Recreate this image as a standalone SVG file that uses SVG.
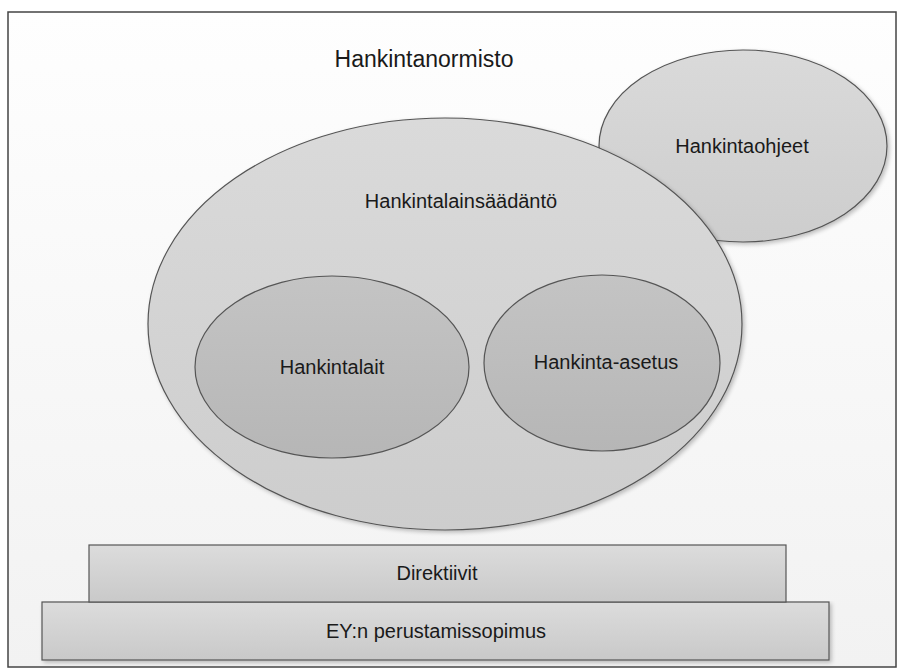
<svg xmlns="http://www.w3.org/2000/svg" width="902" height="669" viewBox="0 0 902 669">
<style>
.shape{stroke:#555;stroke-width:1.2}
.lbl{font-family:"Liberation Sans",Arial,sans-serif;font-size:20px;fill:#1a1a1a;text-anchor:middle}
</style>
<defs>
<linearGradient id="bg" x1="0" y1="0" x2="0" y2="1"><stop offset="0" stop-color="#fefefe"/><stop offset="1" stop-color="#f2f2f2"/></linearGradient>
<linearGradient id="outer" x1="0" y1="0" x2="0" y2="1"><stop offset="0" stop-color="#dadada"/><stop offset="1" stop-color="#cdcdcd"/></linearGradient>
<linearGradient id="inner" x1="0" y1="0" x2="0" y2="1"><stop offset="0" stop-color="#c4c4c4"/><stop offset="1" stop-color="#b6b6b6"/></linearGradient>
<linearGradient id="rect" x1="0" y1="0" x2="0" y2="1"><stop offset="0" stop-color="#dcdcdc"/><stop offset="1" stop-color="#c9c9c9"/></linearGradient>
<filter id="sh" x="-5%" y="-5%" width="115%" height="115%"><feGaussianBlur in="SourceAlpha" stdDeviation="2"/><feOffset dx="2" dy="2"/><feComponentTransfer><feFuncA type="linear" slope="0.25"/></feComponentTransfer><feMerge><feMergeNode/><feMergeNode in="SourceGraphic"/></feMerge></filter>
</defs>
<rect x="8" y="12" width="888" height="655" fill="url(#bg)" stroke="#444" stroke-width="1.5"/>
<g id="title"><text class="lbl" x="424" y="67" style="font-size:23px">Hankintanormisto</text></g>
<g id="hankintaohjeet"><ellipse class="shape" cx="743" cy="146" rx="144" ry="96" fill="url(#outer)" filter="url(#sh)"/><text class="lbl" x="742" y="153">Hankintaohjeet</text></g>
<g id="hankintalainsaadanto"><ellipse class="shape" cx="445" cy="324" rx="297" ry="206" fill="url(#outer)" filter="url(#sh)"/><text class="lbl" x="461" y="208">Hankintalainsäädäntö</text></g>
<g id="hankintalait"><ellipse class="shape" cx="332" cy="367" rx="137" ry="91" fill="url(#inner)"/><text class="lbl" x="332" y="374">Hankintalait</text></g>
<g id="hankinta-asetus"><ellipse class="shape" cx="602" cy="363" rx="118" ry="88" fill="url(#inner)"/><text class="lbl" x="606" y="369">Hankinta-asetus</text></g>
<g id="ey"><rect class="shape" x="42" y="602" width="787" height="58" fill="url(#rect)" filter="url(#sh)"/><text class="lbl" x="436" y="638">EY:n perustamissopimus</text></g>
<g id="direktiivit"><rect class="shape" x="89" y="545" width="697" height="57" fill="url(#rect)"/><text class="lbl" x="437" y="580">Direktiivit</text></g>
<g id="connectors"/>
</svg>
